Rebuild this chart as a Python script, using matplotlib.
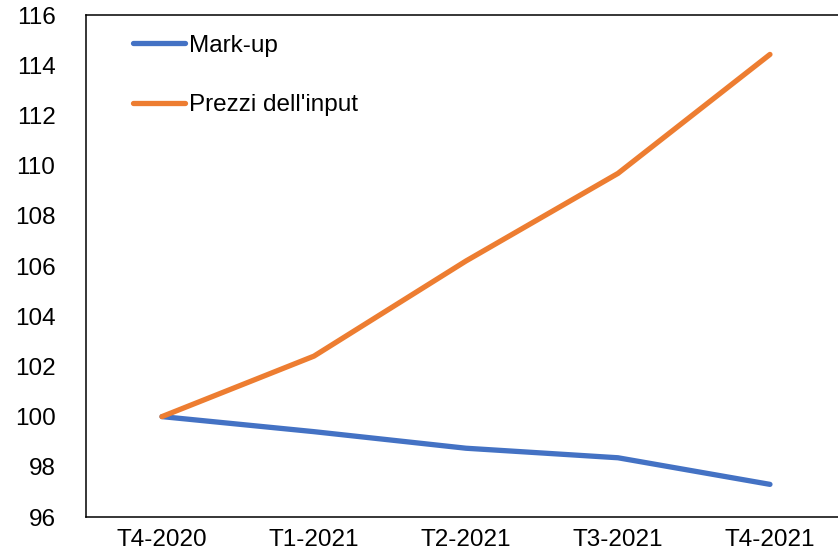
import matplotlib.pyplot as plt

plt.rcParams['font.family'] = ['Liberation Sans', 'DejaVu Sans']

# Quarterly indices (T4-2020 = 100)
quarters = ["T4-2020", "T1-2021", "T2-2021", "T3-2021", "T4-2021"]
markup = [100.0, 99.4, 98.74, 98.36, 97.3]
input_prices = [100.0, 102.41, 106.2, 109.69, 114.43]

fig = plt.figure(figsize=(8.38, 5.5), dpi=100)
ax = fig.add_axes([0.1026, 0.06, 0.9069, 0.9127])

x = range(len(quarters))
ax.plot(x, markup, color='#4472C4', lw=3.8, solid_capstyle='round', label='Mark-up')
ax.plot(x, input_prices, color='#ED7D31', lw=3.8, solid_capstyle='round',
        label="Prezzi dell'input")

ax.set_xlim(-0.5, len(quarters) - 0.5)
ax.set_ylim(96, 116)
ax.set_yticks(range(96, 117, 2))
ax.set_xticks(list(x))
ax.set_xticklabels(quarters)

ax.tick_params(axis='y', length=0, pad=22, labelsize=17.5)
ax.tick_params(axis='x', length=0, pad=9, labelsize=17.5)
ax.spines['right'].set_visible(False)
for side in ['left', 'bottom', 'top']:
    ax.spines[side].set_linewidth(1.1)

ax.legend(loc='upper left', bbox_to_anchor=(0.049, 0.98), frameon=False,
          fontsize=17.5, handlelength=2.15, handletextpad=0.15,
          labelspacing=1.55, borderaxespad=0)

fig.savefig('out.png', dpi=100)
